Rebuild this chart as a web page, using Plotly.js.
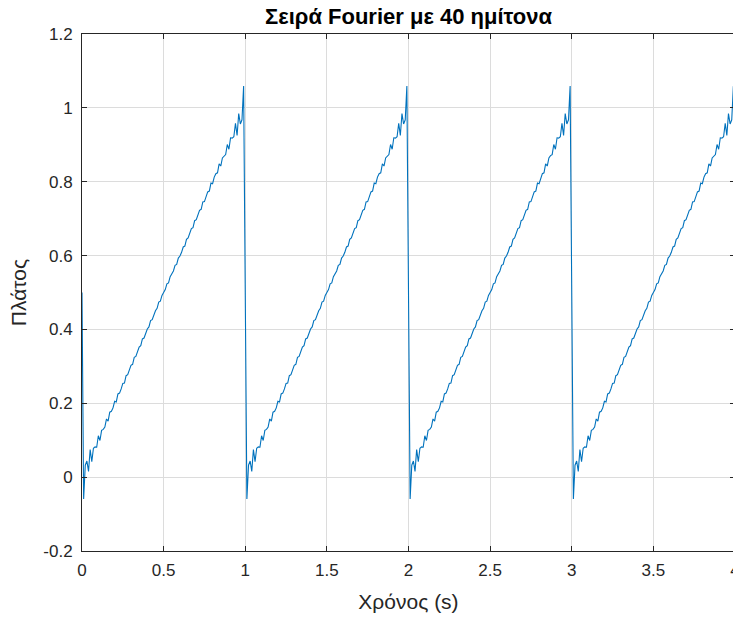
<!DOCTYPE html>
<html>
<head>
<meta charset="utf-8">
<script src="https://cdn.plot.ly/plotly-3.0.1.min.js"></script>
<style>html,body{margin:0;padding:0;overflow:hidden;background:#fff;}#chart{width:738px;height:618px;}</style>
</head>
<body>
<div id="chart"></div>
<script>
const sampleStart = 0;
const sampleStep = 0.01;
const startValue = [0.5];
const second1 = [
-0.0594, 0.0323, 0.0438, 0.0157, 0.0747, 0.0419, 0.0782, 0.0818, 0.0810, 0.1121,
0.0992, 0.1266, 0.1294, 0.1355, 0.1575, 0.1519, 0.1758, 0.1782, 0.1876, 0.2054,
0.2036, 0.2252, 0.2276, 0.2389, 0.2539, 0.2547, 0.2748, 0.2773, 0.2898, 0.3029,
0.3055, 0.3245, 0.3270, 0.3406, 0.3520, 0.3562, 0.3743, 0.3767, 0.3912, 0.4013,
0.4068, 0.4240, 0.4265, 0.4417, 0.4506, 0.4573, 0.4739, 0.4763, 0.4922, 0.5000,
0.5078, 0.5237, 0.5261, 0.5427, 0.5494, 0.5583, 0.5735, 0.5760, 0.5932, 0.5987,
0.6088, 0.6233, 0.6257, 0.6438, 0.6480, 0.6594, 0.6730, 0.6755, 0.6945, 0.6971,
0.7102, 0.7227, 0.7252, 0.7453, 0.7461, 0.7611, 0.7724, 0.7748, 0.7964, 0.7946,
0.8124, 0.8218, 0.8242, 0.8481, 0.8425, 0.8645, 0.8706, 0.8734, 0.9008, 0.8879,
0.9190, 0.9182, 0.9218, 0.9581, 0.9253, 0.9843, 0.9562, 0.9677, 1.0594, 0.5000
];
const second2 = [
-0.0594, 0.0323, 0.0438, 0.0157, 0.0747, 0.0419, 0.0782, 0.0818, 0.0810, 0.1121,
0.0992, 0.1266, 0.1294, 0.1355, 0.1575, 0.1519, 0.1758, 0.1782, 0.1876, 0.2054,
0.2036, 0.2252, 0.2276, 0.2389, 0.2539, 0.2547, 0.2748, 0.2773, 0.2898, 0.3029,
0.3055, 0.3245, 0.3270, 0.3406, 0.3520, 0.3562, 0.3743, 0.3767, 0.3912, 0.4013,
0.4068, 0.4240, 0.4265, 0.4417, 0.4506, 0.4573, 0.4739, 0.4763, 0.4922, 0.5000,
0.5078, 0.5237, 0.5261, 0.5427, 0.5494, 0.5583, 0.5735, 0.5760, 0.5932, 0.5987,
0.6088, 0.6233, 0.6257, 0.6438, 0.6480, 0.6594, 0.6730, 0.6755, 0.6945, 0.6971,
0.7102, 0.7227, 0.7252, 0.7453, 0.7461, 0.7611, 0.7724, 0.7748, 0.7964, 0.7946,
0.8124, 0.8218, 0.8242, 0.8481, 0.8425, 0.8645, 0.8706, 0.8734, 0.9008, 0.8879,
0.9190, 0.9182, 0.9218, 0.9581, 0.9253, 0.9843, 0.9562, 0.9677, 1.0594, 0.5000
];
const second3 = [
-0.0594, 0.0323, 0.0438, 0.0157, 0.0747, 0.0419, 0.0782, 0.0818, 0.0810, 0.1121,
0.0992, 0.1266, 0.1294, 0.1355, 0.1575, 0.1519, 0.1758, 0.1782, 0.1876, 0.2054,
0.2036, 0.2252, 0.2276, 0.2389, 0.2539, 0.2547, 0.2748, 0.2773, 0.2898, 0.3029,
0.3055, 0.3245, 0.3270, 0.3406, 0.3520, 0.3562, 0.3743, 0.3767, 0.3912, 0.4013,
0.4068, 0.4240, 0.4265, 0.4417, 0.4506, 0.4573, 0.4739, 0.4763, 0.4922, 0.5000,
0.5078, 0.5237, 0.5261, 0.5427, 0.5494, 0.5583, 0.5735, 0.5760, 0.5932, 0.5987,
0.6088, 0.6233, 0.6257, 0.6438, 0.6480, 0.6594, 0.6730, 0.6755, 0.6945, 0.6971,
0.7102, 0.7227, 0.7252, 0.7453, 0.7461, 0.7611, 0.7724, 0.7748, 0.7964, 0.7946,
0.8124, 0.8218, 0.8242, 0.8481, 0.8425, 0.8645, 0.8706, 0.8734, 0.9008, 0.8879,
0.9190, 0.9182, 0.9218, 0.9581, 0.9253, 0.9843, 0.9562, 0.9677, 1.0594, 0.5000
];
const second4 = [
-0.0594, 0.0323, 0.0438, 0.0157, 0.0747, 0.0419, 0.0782, 0.0818, 0.0810, 0.1121,
0.0992, 0.1266, 0.1294, 0.1355, 0.1575, 0.1519, 0.1758, 0.1782, 0.1876, 0.2054,
0.2036, 0.2252, 0.2276, 0.2389, 0.2539, 0.2547, 0.2748, 0.2773, 0.2898, 0.3029,
0.3055, 0.3245, 0.3270, 0.3406, 0.3520, 0.3562, 0.3743, 0.3767, 0.3912, 0.4013,
0.4068, 0.4240, 0.4265, 0.4417, 0.4506, 0.4573, 0.4739, 0.4763, 0.4922, 0.5000,
0.5078, 0.5237, 0.5261, 0.5427, 0.5494, 0.5583, 0.5735, 0.5760, 0.5932, 0.5987,
0.6088, 0.6233, 0.6257, 0.6438, 0.6480, 0.6594, 0.6730, 0.6755, 0.6945, 0.6971,
0.7102, 0.7227, 0.7252, 0.7453, 0.7461, 0.7611, 0.7724, 0.7748, 0.7964, 0.7946,
0.8124, 0.8218, 0.8242, 0.8481, 0.8425, 0.8645, 0.8706, 0.8734, 0.9008, 0.8879,
0.9190, 0.9182, 0.9218, 0.9581, 0.9253, 0.9843, 0.9562, 0.9677, 1.0594, 0.5000
];
const xTicks = [0, 0.5, 1, 1.5, 2, 2.5, 3, 3.5, 4];
const xTickLabels = ['0', '0.5', '1', '1.5', '2', '2.5', '3', '3.5', '4'];
const yTicks = [-0.2, 0, 0.2, 0.4, 0.6, 0.8, 1, 1.2];
const yTickLabels = ['-0.2', '0', '0.2', '0.4', '0.6', '0.8', '1', '1.2'];
const chartTitle = 'Σειρά Fourier με 40 ημίτονα';
const xLabel = 'Χρόνος (s)';
const yLabel = 'Πλάτος';

const amplitude = startValue.concat(second1, second2, second3, second4);

const axisColor = '#262626';
const gridColor = '#dcdcdc';
const fontFamily = '"Liberation Sans", Arial, Helvetica, sans-serif';

const trace = {
  type: 'scatter',
  mode: 'lines',
  x0: sampleStart,
  dx: sampleStep,
  y: amplitude,
  line: {color: '#0072BD', width: 1.1},
  hoverinfo: 'skip',
  cliponaxis: true
};

const axisCommon = {
  showline: true,
  linecolor: axisColor,
  linewidth: 1,
  mirror: 'ticks',
  ticks: 'inside',
  ticklen: 5,
  tickwidth: 1,
  tickcolor: axisColor,
  showgrid: true,
  gridcolor: gridColor,
  gridwidth: 1,
  zeroline: false,
  automargin: false,
  ticklabeloverflow: 'allow',
  tickfont: {family: fontFamily, size: 17, color: axisColor}
};

const layout = {
  width: 738,
  height: 618,
  margin: {l: 82, r: 3, t: 34, b: 67},
  paper_bgcolor: '#ffffff',
  plot_bgcolor: '#ffffff',
  showlegend: false,
  title: {
    text: '<b>' + chartTitle + '</b>',
    font: {family: fontFamily, size: 22, color: '#000000'},
    xref: 'paper', x: 0.5, xanchor: 'center',
    yref: 'container', y: 0.973, yanchor: 'middle'
  },
  xaxis: Object.assign({}, axisCommon, {
    range: [0, 4],
    tickvals: xTicks,
    ticktext: xTickLabels,
    ticklabelstandoff: 4,
    title: {text: xLabel, font: {family: fontFamily, size: 21, color: axisColor}, standoff: 14}
  }),
  yaxis: Object.assign({}, axisCommon, {
    range: [-0.2, 1.2],
    tickvals: yTicks,
    ticktext: yTickLabels,
    ticklabelstandoff: 5,
    title: {text: yLabel, font: {family: fontFamily, size: 21, color: axisColor}, standoff: 10}
  })
};

Plotly.newPlot('chart', [trace], layout, {displayModeBar: false, staticPlot: true});
</script>
</body>
</html>
